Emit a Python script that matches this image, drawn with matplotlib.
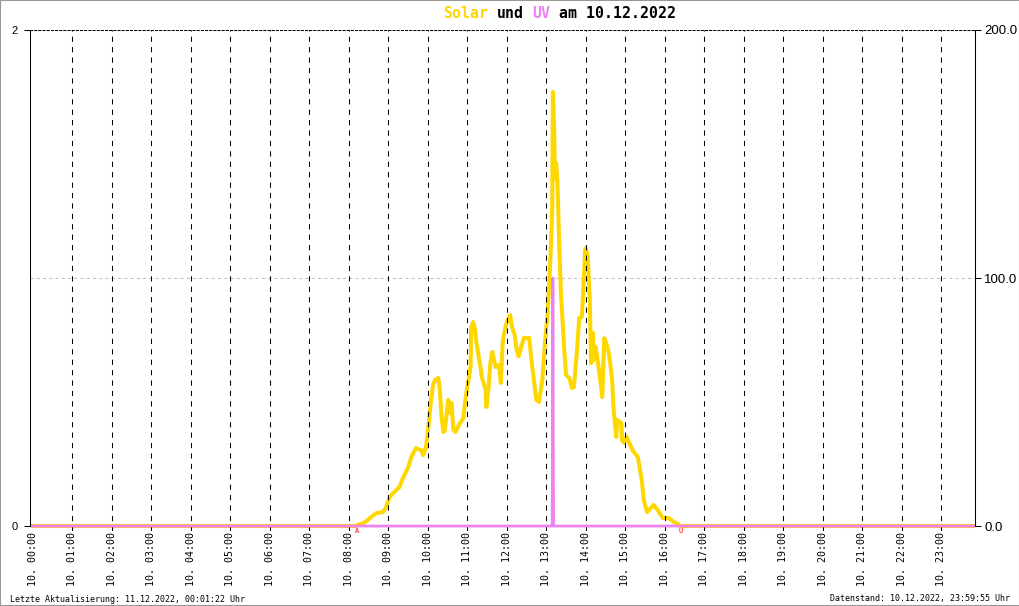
#!/usr/bin/env python3
import matplotlib
matplotlib.use('Agg')
import matplotlib.pyplot as plt
import matplotlib.dates as mdates
from matplotlib.patches import Rectangle
from datetime import datetime, timedelta

day = datetime(2022, 12, 10)

# solar radiation in W/m2 (right axis)
solar_times = ['00:00', '08:10', '08:14', '08:23', '08:34', '08:42', '08:52', '08:57', '09:02', '09:09',
               '09:17', '09:23', '09:30', '09:35', '09:42', '09:50', '09:53', '09:57', '10:00', '10:02',
               '10:05', '10:08', '10:11', '10:16', '10:18', '10:21', '10:24', '10:26', '10:31', '10:34',
               '10:36', '10:39', '10:42', '10:49', '10:54', '10:57', '11:00', '11:05', '11:06', '11:09',
               '11:12', '11:14', '11:20', '11:22', '11:28', '11:29', '11:32', '11:35', '11:38', '11:43',
               '11:48', '11:51', '11:54', '11:57', '12:00', '12:05', '12:08', '12:12', '12:15', '12:18',
               '12:26', '12:34', '12:38', '12:45', '12:49', '12:54', '12:58', '13:02', '13:05', '13:08',
               '13:09', '13:10', '13:12', '13:13', '13:15', '13:17', '13:19', '13:22', '13:24', '13:27',
               '13:30', '13:35', '13:39', '13:42', '13:47', '13:50', '13:54', '13:57', '13:59', '14:00',
               '14:03', '14:06', '14:08', '14:11', '14:12', '14:15', '14:20', '14:25', '14:28', '14:31',
               '14:34', '14:37', '14:40', '14:42', '14:46', '14:48', '14:54', '14:55', '14:58', '15:02',
               '15:06', '15:11', '15:19', '15:25', '15:28', '15:33', '15:43', '15:49', '15:57', '16:06',
               '16:14', '16:20', '16:23', '23:59']
solar_values = [0, 0, 0.5, 1.2, 3.6, 5.2, 5.6, 7.7, 11.7, 13.7,
                15.7, 19.8, 23.4, 27.8, 31.4, 30.6, 28.6, 31.4, 37.5, 42.7,
                50.8, 56.9, 58.9, 59.7, 56.0, 43.9, 37.9, 38.7, 50.8, 45.6,
                49.6, 38.7, 37.9, 41.5, 43.5, 50.8, 56.0, 64.1, 80.2, 82.3,
                79.0, 73.8, 64.1, 60.1, 54.8, 48.0, 54.8, 65.7, 70.2, 64.1,
                64.9, 57.7, 75.0, 79.0, 82.3, 85.1, 80.2, 77.0, 71.0, 68.5,
                75.8, 75.8, 65.7, 50.8, 50.0, 58.9, 73.8, 85.9, 100.4, 119.3,
                128.6, 175.0, 160.0, 140.0, 146.4, 138.3, 119.3, 95.2, 85.9, 72.2,
                60.9, 59.7, 55.6, 56.0, 72.2, 83.9, 84.3, 99.2, 111.3, 112.1,
                108.5, 91.1, 65.7, 77.8, 66.9, 72.2, 62.9, 52.0, 75.8, 73.8,
                71.0, 65.7, 58.9, 48.0, 35.9, 42.7, 41.5, 34.7, 33.5, 35.9,
                33.5, 30.6, 27.8, 18.5, 10.5, 5.6, 8.5, 6.5, 3.2, 3.2,
                1.6, 0.8, 0, 0]

# UV index (left axis)
uv_times = ['00:00', '13:09', '13:10', '13:11', '23:59']
uv_values = [0, 0, 1, 0, 0]

sunrise = '08:12'
sunset = '16:24'

def t(s):
  h, m = s.split(':')
  return day + timedelta(hours=int(h), minutes=int(m))

solar_x = [t(s) for s in solar_times]
uv_x = [t(s) for s in uv_times]

plt.rcParams['font.family'] = 'DejaVu Sans Mono'

fig = plt.figure(figsize=(10.2, 6.06), dpi=100)
ax = fig.add_axes([30 / 1020, 1 - 531 / 606, 945 / 1020, 501 / 606])
ax2 = ax.twinx()
ax.set_zorder(ax2.get_zorder() + 1)
ax.patch.set_visible(False)

ax2.axhline(100, color='#c0c0c0', linestyle=(0, (3, 3)), linewidth=0.75, zorder=1)
ax2.plot(solar_x, solar_values, color='#FFD700', linewidth=2.9, zorder=2)
ax.plot(uv_x, uv_values, color='#EE82EE', linewidth=2.0, zorder=3)

ax.set_xlim(day - timedelta(minutes=4), day + timedelta(hours=23, minutes=51))
ax.set_ylim(-0.02, 2)
ax2.set_ylim(-2, 200)

ax.xaxis.set_major_locator(mdates.HourLocator())
ax.xaxis.set_major_formatter(mdates.DateFormatter('%d. %H:%M'))
ax.grid(axis='x', color='black', linestyle=(0, (5, 5)), linewidth=0.75)
ax.get_xgridlines()[0].set_visible(False)
ax.tick_params(axis='x', length=0, pad=0.8, labelsize=7.2, labelrotation=90)

ax.set_yticks([0, 2])
ax.set_yticklabels(['0', '2'])
ax.tick_params(axis='y', direction='out', length=4.3, width=0.75, pad=4.3, labelsize=8,
               labelfontfamily='Liberation Sans')
ax2.set_yticks([0, 100, 200])
ax2.set_yticklabels(['0.0', '100.0', '200.0'])
ax2.tick_params(axis='y', direction='out', length=4.3, width=0.75, pad=2.2, labelsize=9.5,
                labelfontfamily='Liberation Sans')

for side in ['right', 'bottom']:
  ax.spines[side].set_visible(False)
for side in ['left', 'top', 'bottom']:
  ax2.spines[side].set_visible(False)
ax.spines['left'].set_bounds(0, 2)
ax.spines['left'].set_linewidth(0.75)
ax.spines['top'].set_linestyle((0, (2, 2)))
ax.spines['top'].set_linewidth(0.75)
ax2.spines['right'].set_bounds(0, 200)
ax2.spines['right'].set_linewidth(0.75)

# sunrise / sunset markers
ax.text(t(sunrise), -0.006, 'A', color='red', fontsize=5, ha='center', va='top', clip_on=False)
ax.text(t(sunset), -0.006, 'U', color='red', fontsize=5, ha='center', va='top', clip_on=False)

# title with coloured words, monospace so every char has the same width
title_size = 10.7
cw = 0.602 * title_size * 100 / 72 / 1020
tx, ty = 443 / 1020, 1 - 13 / 606
title_parts = [(0, 'Solar', '#FFD700'), (6, 'und', 'black'), (10, 'UV', '#EE82EE'), (13, 'am 10.12.2022', 'black')]
for pos, word, col in title_parts:
  fig.text(tx + pos * cw, ty, word, color=col, fontsize=title_size, fontweight='bold', ha='left', va='center')

fig.text(10 / 1020, 1 - 599 / 606, 'Letzte Aktualisierung: 11.12.2022, 00:01:22 Uhr', fontsize=6, ha='left', va='center')
fig.text(1010 / 1020, 1 - 599 / 606, 'Datenstand: 10.12.2022, 23:59:55 Uhr', fontsize=6, ha='right', va='center')

fig.add_artist(Rectangle((0, 0), 1, 1, transform=fig.transFigure, fill=False, edgecolor='#999999', linewidth=1.5))

plt.savefig('out.png', dpi=100)
